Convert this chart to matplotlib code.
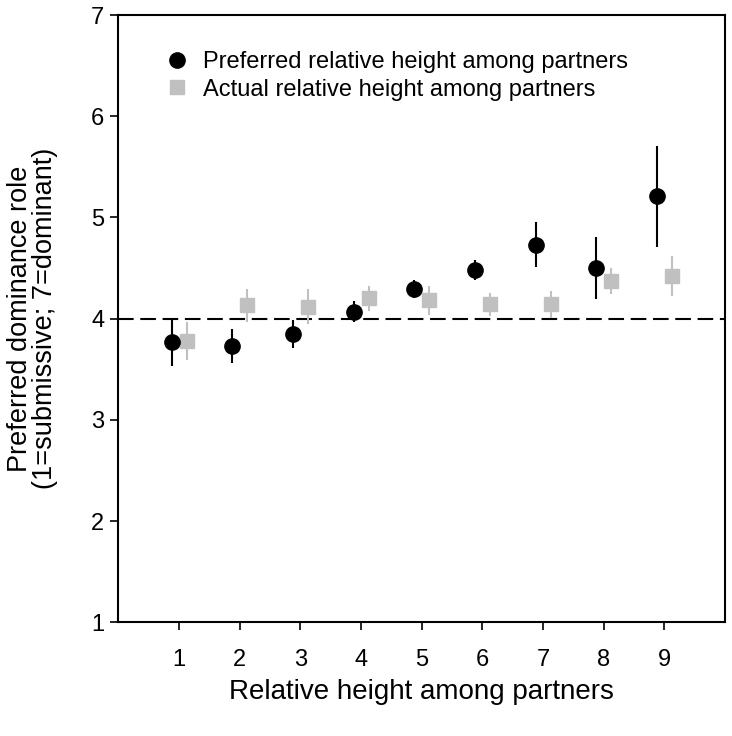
import matplotlib.pyplot as plt
import numpy as np

plt.rcParams['font.family'] = ['Liberation Sans', 'DejaVu Sans']

# datos
heights = np.arange(1, 10)
preferred = [3.77, 3.73, 3.85, 4.07, 4.29, 4.48, 4.73, 4.50, 5.21]
preferred_err = [0.24, 0.165, 0.14, 0.10, 0.09, 0.10, 0.22, 0.31, 0.50]
actual = [3.78, 4.13, 4.12, 4.20, 4.18, 4.14, 4.14, 4.37, 4.42]
actual_err = [0.19, 0.165, 0.17, 0.12, 0.14, 0.11, 0.13, 0.13, 0.20]

fig = plt.figure(figsize=(7.32, 7.36), dpi=100)
ax = fig.add_axes([0.1616, 0.1545, 0.8288, 0.8251])

x_pref = heights - 0.12
x_act = heights + 0.125

ax.axhline(4, color='black', lw=1.5, dashes=(7.5, 3.2), zorder=1)

ax.errorbar(x_act, actual, yerr=actual_err, fmt='none', ecolor='#c0c0c0',
            elinewidth=1.5, capsize=0, zorder=2)
ax.plot(x_act, actual, 's', color='#c0c0c0', ms=10, mec='#c0c0c0', ls='none',
        label='Actual relative height among partners', zorder=3)

ax.errorbar(x_pref, preferred, yerr=preferred_err, fmt='none', ecolor='black',
            elinewidth=1.5, capsize=0, zorder=4)
ax.plot(x_pref, preferred, 'o', color='black', ms=11, ls='none',
        label='Preferred relative height among partners', zorder=5)

ax.set_xlim(0, 10)
ax.set_ylim(1, 7)
ax.set_xticks(heights)
ax.set_yticks(range(1, 8))
ax.tick_params(direction='out', length=6, width=1.2, labelsize=17)
ax.tick_params(axis='x', pad=13)
ax.tick_params(axis='y', pad=4)

for s in ax.spines.values():
    s.set_linewidth(1.5)

ax.set_xlabel('Relative height among partners', fontsize=20, labelpad=6)
ax.set_ylabel('Preferred dominance role\n(1=submissive; 7=dominant)', fontsize=19.5,
              labelpad=24, linespacing=0.95)

h, l = ax.get_legend_handles_labels()
ax.legend(h[::-1], l[::-1], loc='upper left', bbox_to_anchor=(0.077, 0.941),
          frameon=False, fontsize=17, handletextpad=0.6, labelspacing=0.25,
          handlelength=1.0, borderpad=0, borderaxespad=0)

plt.savefig('out.png', dpi=100)
